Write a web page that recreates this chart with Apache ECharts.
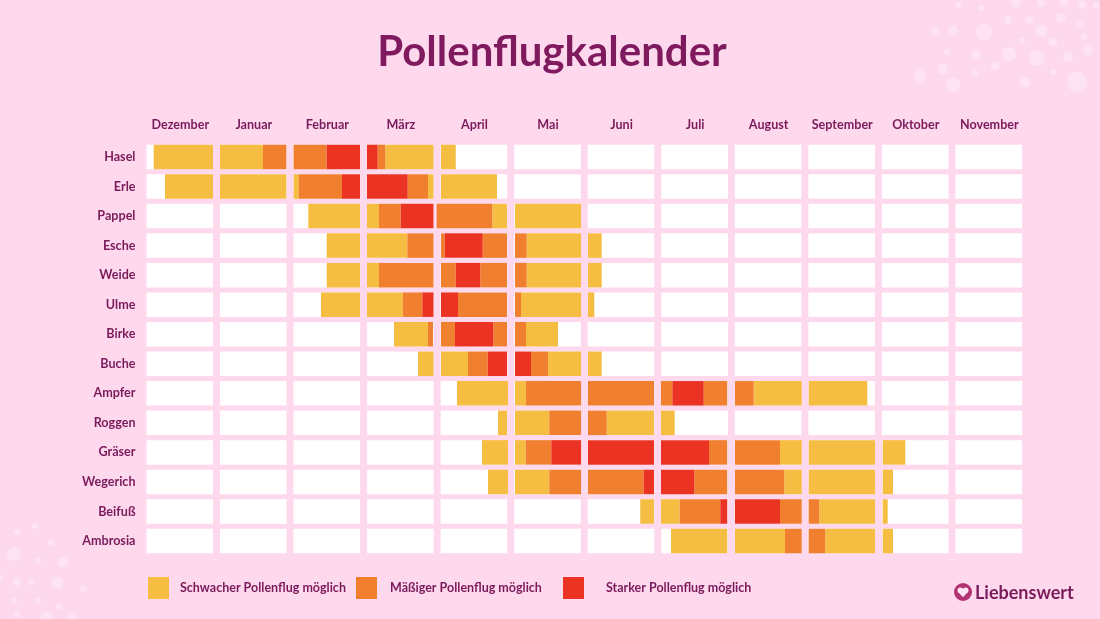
<!DOCTYPE html>
<html lang="de">
<head>
    <meta charset="UTF-8">
    <title>Pollenflugkalender</title>
    <script src="https://cdn.jsdelivr.net/npm/echarts@6/dist/echarts.min.js"></script>
    <style>
        html, body { margin: 0; padding: 0; background: #fed9ee; }
        #main { width: 1100px; height: 619px; }
    </style>
</head>
<body>
<div id="main"></div>
<script>
var months = ['Dezember', 'Januar', 'Februar', 'März', 'April', 'Mai', 'Juni', 'Juli', 'August', 'September', 'Oktober', 'November'];
var plants = ['Hasel', 'Erle', 'Pappel', 'Esche', 'Weide', 'Ulme', 'Birke', 'Buche', 'Ampfer', 'Roggen', 'Gräser', 'Wegerich', 'Beifuß', 'Ambrosia'];
var levels = ['Schwacher Pollenflug möglich', 'Mäßiger Pollenflug möglich', 'Starker Pollenflug möglich'];

// [von, bis, stufe] - position in months counted from start of Dezember
var hasel = [[0.139, 0.945, 0], [1.040, 1.625, 0], [1.625, 1.942, 1], [2.041, 2.491, 1], [2.491, 2.944, 2], [3.039, 3.184, 2], [3.184, 3.288, 1], [3.288, 3.943, 0], [4.045, 4.245, 0]];
var erle = [[0.292, 0.945, 0], [1.040, 1.942, 0], [2.041, 2.110, 0], [2.110, 2.699, 1], [2.699, 2.944, 2], [3.039, 3.592, 2], [3.592, 3.868, 1], [3.868, 3.943, 0], [4.045, 4.806, 0]];
var pappel = [[2.241, 2.944, 0], [3.039, 3.202, 0], [3.202, 3.497, 1], [3.497, 3.943, 2], [3.986, 4.742, 1], [4.742, 4.942, 0], [5.051, 5.949, 0]];
var esche = [[2.491, 2.944, 0], [3.039, 3.587, 0], [3.587, 3.943, 1], [4.045, 4.095, 1], [4.095, 4.612, 2], [4.612, 4.942, 1], [5.051, 5.210, 1], [5.210, 5.949, 0], [6.043, 6.230, 0]];
var weide = [[2.491, 2.944, 0], [3.039, 3.202, 0], [3.202, 3.943, 1], [4.045, 4.245, 1], [4.245, 4.579, 2], [4.579, 4.942, 1], [5.051, 5.210, 1], [5.210, 5.949, 0], [6.043, 6.230, 0]];
var ulme = [[2.413, 2.944, 0], [3.039, 3.524, 0], [3.524, 3.791, 1], [3.791, 3.943, 2], [4.045, 4.276, 2], [4.276, 4.942, 1], [5.051, 5.133, 1], [5.133, 5.949, 0], [6.043, 6.129, 0]];
var birke = [[3.406, 3.868, 0], [3.868, 3.936, 1], [4.045, 4.235, 1], [4.235, 4.756, 2], [4.756, 4.942, 1], [5.051, 5.201, 1], [5.201, 5.636, 0]];
var buche = [[3.732, 3.943, 0], [4.045, 4.412, 0], [4.412, 4.680, 1], [4.680, 4.942, 2], [5.051, 5.269, 2], [5.269, 5.500, 1], [5.500, 5.949, 0], [6.043, 6.230, 0]];
var ampfer = [[4.262, 4.956, 0], [5.051, 5.201, 0], [5.201, 5.949, 1], [6.043, 6.941, 1], [7.036, 7.190, 1], [7.190, 7.617, 2], [7.617, 7.937, 1], [8.042, 8.296, 1], [8.296, 8.949, 0], [9.044, 9.841, 0]];
var roggen = [[4.820, 4.942, 0], [5.051, 5.517, 0], [5.517, 5.949, 1], [6.043, 6.298, 1], [6.298, 6.941, 0], [7.036, 7.222, 0]];
var graeser = [[4.602, 4.956, 0], [5.051, 5.196, 0], [5.196, 5.544, 1], [5.544, 5.949, 2], [6.043, 6.941, 2], [7.036, 7.689, 2], [7.689, 7.937, 1], [8.042, 8.654, 1], [8.654, 8.949, 0], [9.044, 9.946, 0], [10.050, 10.358, 0]];
var wegerich = [[4.684, 4.956, 0], [5.051, 5.517, 0], [5.517, 5.949, 1], [6.043, 6.801, 1], [6.801, 6.941, 2], [7.036, 7.489, 2], [7.489, 7.937, 1], [8.042, 8.712, 1], [8.712, 8.949, 0], [9.044, 9.946, 0], [10.050, 10.190, 0]];
var beifuss = [[6.754, 6.941, 0], [7.036, 7.290, 0], [7.290, 7.842, 1], [7.842, 7.937, 2], [8.042, 8.654, 2], [8.654, 8.949, 1], [9.044, 9.188, 1], [9.188, 9.946, 0], [10.050, 10.118, 0]];
var ambrosia = [[7.172, 7.937, 0], [8.042, 8.722, 0], [8.722, 8.949, 1], [9.044, 9.270, 1], [9.270, 9.946, 0], [10.050, 10.190, 0]];

var perPlant = [hasel, erle, pappel, esche, weide, ulme, birke, buche, ampfer, roggen, graeser, wegerich, beifuss, ambrosia];

var bgColor = '#fed9ee';
var textColor = '#7b1a5b';
var levelColors = ['#f5bd41', '#f0802f', '#ea3323'];
var fontName = 'Lato';
var rowShare = 0.83; // share of one row taken by the bar

function renderBand(params, api) {
    var start = api.coord([api.value(0), api.value(2)]);
    var end = api.coord([api.value(1), api.value(2)]);
    var h = api.size([0, 1])[1] * rowShare;
    return {
        type: 'rect',
        shape: { x: start[0], y: start[1] - h / 2, width: end[0] - start[0], height: h },
        style: api.style()
    };
}

// white month cells behind everything
var cellData = [];
plants.forEach(function (p, row) {
    months.forEach(function (m, i) {
        cellData.push([i + 0.04, i + 0.945, row]);
    });
});

var series = [{
    type: 'custom',
    name: 'cells',
    silent: true,
    z: 1,
    renderItem: renderBand,
    encode: { x: [0, 1], y: 2 },
    itemStyle: { color: '#ffffff' },
    data: cellData
}];
levels.forEach(function (name, lvl) {
    var rows = [];
    perPlant.forEach(function (bands, row) {
        bands.forEach(function (b) {
            if (b[2] === lvl) rows.push([b[0], b[1], row]);
        });
    });
    series.push({
        type: 'custom',
        name: name,
        z: 2,
        renderItem: renderBand,
        encode: { x: [0, 1], y: 2 },
        itemStyle: { color: levelColors[lvl] },
        data: rows
    });
});

// background dots, decoration only
var dots = [
    [959, 5, 3], [981, 8, 3], [1016, 2, 5], [1041, 3, 4], [1064, 2, 4], [1082, 5, 4], [1096, 5, 3],
    [1008, 20, 4], [1029, 20, 4], [1061, 18, 5], [1080, 24, 3], [935, 31, 4], [953, 31, 5], [984, 32, 8],
    [1041, 31, 6], [1022, 41, 3], [1053, 42, 4], [1084, 37, 3], [1088, 50, 5], [947, 52, 3], [976, 55, 5],
    [1009, 54, 7], [1037, 58, 8], [1068, 57, 5], [995, 66, 4], [943, 69, 5], [975, 73, 3], [1053, 72, 3],
    [920, 76, 6], [953, 85, 7], [1025, 82, 5], [1077, 82, 10],
    [35, 526, 3], [17, 532, 3], [51, 543, 3], [14, 554, 7], [38, 561, 3], [63, 562, 5], [0, 578, 3],
    [17, 582, 4], [31, 582, 3], [57, 583, 6], [83, 589, 3], [14, 601, 3], [38, 601, 3], [59, 607, 3],
    [17, 614, 3], [47, 617, 6], [72, 617, 4]
];
var graphics = dots.map(function (d) {
    return {
        type: 'circle',
        silent: true,
        z: -1,
        shape: { cx: d[0], cy: d[1], r: d[2] },
        style: { fill: 'rgba(255,255,255,0.3)' }
    };
});
// logo
var heartFill = '#fde6f3';
graphics.push({ type: 'circle', shape: { cx: 963, cy: 592, r: 9 }, style: { fill: '#b23272' } });
graphics.push({ type: 'circle', z: 5, shape: { cx: 960.4, cy: 590.3, r: 2.9 }, style: { fill: heartFill } });
graphics.push({ type: 'circle', z: 5, shape: { cx: 965.6, cy: 590.3, r: 2.9 }, style: { fill: heartFill } });
graphics.push({ type: 'polygon', z: 5, shape: { points: [[957.9, 591.7], [968.1, 591.7], [963, 597.2]] }, style: { fill: heartFill } });
graphics.push({
    type: 'text',
    left: 975,
    top: 584,
    style: { text: 'Liebenswert', fill: textColor, font: 'bold 18px ' + fontName }
});

var legendSpots = [
    { left: 148, pad: 6 },
    { left: 356, pad: 8 },
    { left: 563, pad: 17 }
];

var option = {
    animation: false,
    backgroundColor: bgColor,
    title: {
        text: 'Pollenflugkalender',
        left: 547,
        top: 26,
        textAlign: 'center',
        textStyle: { color: '#7f1a5e', fontFamily: fontName, fontWeight: 'bold', fontSize: 42 }
    },
    grid: { left: 143.5, top: 142.2, width: 882.6, height: 413.6, containLabel: false },
    xAxis: [
        { type: 'value', min: 0, max: 12, show: false },
        {
            type: 'category',
            position: 'top',
            data: months,
            axisLine: { show: false },
            axisTick: { show: false },
            axisLabel: { color: textColor, fontFamily: fontName, fontWeight: 'bold', fontSize: 12.6, margin: 11, interval: 0 }
        }
    ],
    yAxis: {
        type: 'category',
        inverse: true,
        data: plants,
        axisLine: { show: false },
        axisTick: { show: false },
        splitLine: { show: false },
        axisLabel: { color: textColor, fontFamily: fontName, fontWeight: 'bold', fontSize: 12.6, margin: 8, interval: 0 }
    },
    legend: levels.map(function (name, i) {
        return {
            data: [{ name: name, icon: 'rect' }],
            left: legendSpots[i].left,
            top: 577,
            padding: 0,
            itemWidth: 21,
            itemHeight: 22,
            selectedMode: false,
            textStyle: { color: textColor, fontFamily: fontName, fontWeight: 'bold', fontSize: 12.5, padding: [2, 0, 0, legendSpots[i].pad] }
        };
    }),
    graphic: graphics,
    series: series
};

var myChart = echarts.init(document.getElementById('main'));
myChart.setOption(option);
</script>
</body>
</html>
